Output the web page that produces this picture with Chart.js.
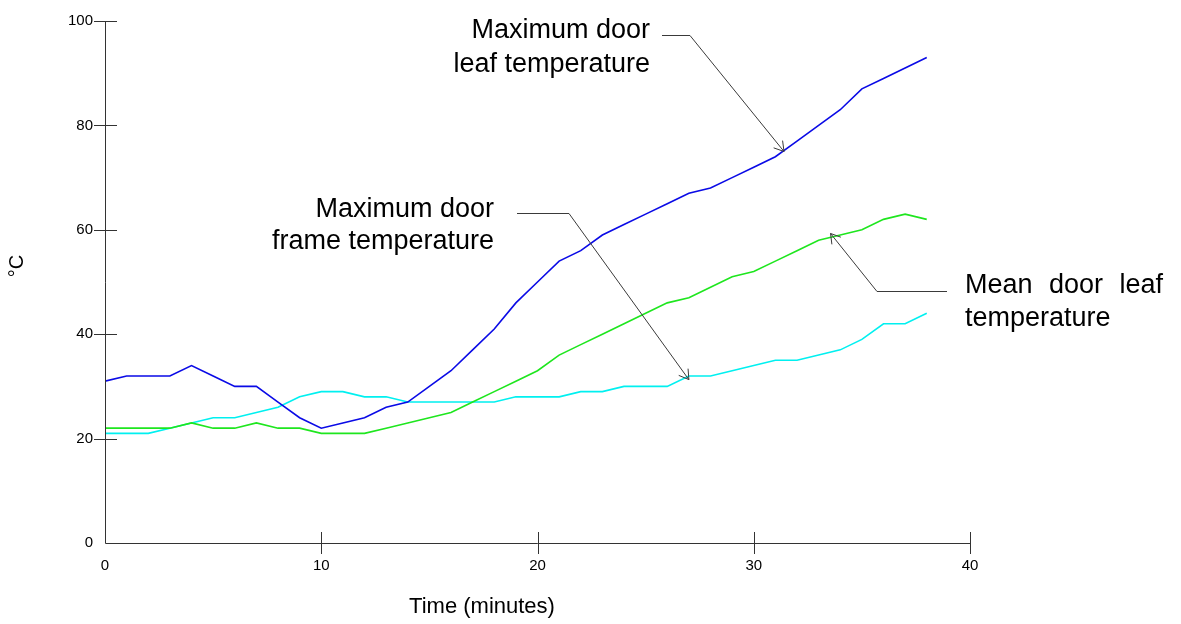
<!DOCTYPE html>
<html>
<head>
<meta charset="utf-8">
<script src="https://cdn.jsdelivr.net/npm/chart.js@4/dist/chart.umd.min.js"></script>
<style>
  html, body { margin: 0; padding: 0; background: #ffffff; }
  #wrap { width: 1181px; height: 624px; position: relative; }
</style>
</head>
<body>
<div id="wrap"><canvas id="chart" width="1181" height="624"></canvas></div>
<script>
// Elapsed test time in minutes
const minutes = [0,1,2,3,4,5,6,7,8,9,10,11,12,13,14,15,16,17,18,19,20,21,22,23,24,25,26,27,28,29,30,31,32,33,34,35,36,37,38];

// Temperatures in °C
const maxLeafTemp  = [31,32,32,32,34,32,30,30,27,24,22,23,24,26,27,30,33,37,41,46,50,54,56,59,61,63,65,67,68,70,72,74,77,80,83,87,89,91,93];
const meanLeafTemp = [22,22,22,22,23,22,22,23,22,22,21,21,21,22,23,24,25,27,29,31,33,36,38,40,42,44,46,47,49,51,52,54,56,58,59,60,62,63,62];
const maxFrameTemp = [21,21,21,22,23,24,24,25,26,28,29,29,28,28,27,27,27,27,27,28,28,28,29,29,30,30,30,32,32,33,34,35,35,36,37,39,42,42,44];

// Axis tick values
const xTicks = [0, 10, 20, 30, 40];
const yTicks = [0, 20, 40, 60, 80, 100];

// Callout labels with the data point each arrow points at
const callouts = [
  { lines: ['Maximum door', 'leaf temperature'], target: { x: 31.4, y: 75 } },
  { lines: ['Maximum door', 'frame temperature'], target: { x: 27.0, y: 31.3 } },
  { lines: ['Mean door leaf', 'temperature'], target: { x: 33.55, y: 59.3 } }
];

const FONT = '"Liberation Sans", Arial, Helvetica, sans-serif';

function toPoints(ys) {
  return minutes.map((m, i) => ({ x: m, y: ys[i] }));
}

// Placement of the callout text and leader lines (pixels)
const calloutLayout = [
  { align: 'right', tx: 650, baselines: [38, 72],   spacing: [0, 0], elbow: [[662, 35.5], [690, 35.5]] },
  { align: 'right', tx: 494, baselines: [217, 249], spacing: [0, 0], elbow: [[517, 213.5], [569, 213.5]] },
  { align: 'left',  tx: 965, baselines: [293, 326], spacing: [9, 0], elbow: [[947, 291.5], [877, 291.5]] }
];

function arrowHead(ctx, fromX, fromY, tipX, tipY) {
  const ang = Math.atan2(tipY - fromY, tipX - fromX);
  const len = 11, spread = 0.55;
  ctx.beginPath();
  ctx.moveTo(tipX - len * Math.cos(ang - spread), tipY - len * Math.sin(ang - spread));
  ctx.lineTo(tipX, tipY);
  ctx.lineTo(tipX - len * Math.cos(ang + spread), tipY - len * Math.sin(ang + spread));
  ctx.stroke();
}

const decorPlugin = {
  id: 'decor',
  afterDraw(chart) {
    const ctx = chart.ctx;
    const xs = chart.scales.x, ys = chart.scales.y;
    const x0 = xs.getPixelForValue(0), x1 = xs.getPixelForValue(40);
    const y0 = ys.getPixelForValue(0), y1 = ys.getPixelForValue(100);
    ctx.save();

    // Axis lines with ticks crossing them
    ctx.strokeStyle = '#333333';
    ctx.lineWidth = 1;
    ctx.beginPath();
    ctx.moveTo(Math.round(x0) + 0.5, y1);
    ctx.lineTo(Math.round(x0) + 0.5, Math.round(y0) + 0.5);
    ctx.lineTo(x1, Math.round(y0) + 0.5);
    yTicks.forEach(v => {
      if (v === 0) return;
      const py = Math.round(ys.getPixelForValue(v)) + 0.5;
      ctx.moveTo(x0 - 11, py);
      ctx.lineTo(x0 + 12, py);
    });
    xTicks.forEach(v => {
      if (v === 0) return;
      const px = Math.round(xs.getPixelForValue(v)) + 0.5;
      ctx.moveTo(px, y0 - 11);
      ctx.lineTo(px, y0 + 11);
    });
    ctx.stroke();

    // Axis titles
    ctx.fillStyle = '#000000';
    ctx.font = '22px ' + FONT;
    ctx.textAlign = 'center';
    ctx.textBaseline = 'middle';
    ctx.fillText('Time (minutes)', 482, 607);
    ctx.save();
    ctx.translate(17, 266);
    ctx.rotate(-Math.PI / 2);
    ctx.font = '20px ' + FONT;
    ctx.fillText('°C', 0, 0);
    ctx.restore();

    // Callouts
    ctx.font = '27px ' + FONT;
    ctx.textBaseline = 'alphabetic';
    callouts.forEach((c, i) => {
      const L = calloutLayout[i];
      ctx.textAlign = L.align;
      c.lines.forEach((t, j) => {
        if ('wordSpacing' in ctx) ctx.wordSpacing = L.spacing[j] + 'px';
        ctx.fillText(t, L.tx, L.baselines[j]);
      });
      if ('wordSpacing' in ctx) ctx.wordSpacing = '0px';
      const tipX = xs.getPixelForValue(c.target.x);
      const tipY = ys.getPixelForValue(c.target.y);
      const [a, b] = L.elbow;
      ctx.strokeStyle = '#3a3a3a';
      ctx.lineWidth = 1;
      ctx.beginPath();
      ctx.moveTo(a[0], a[1]);
      ctx.lineTo(b[0], b[1]);
      ctx.lineTo(tipX, tipY);
      ctx.stroke();
      arrowHead(ctx, b[0], b[1], tipX, tipY);
    });
    ctx.restore();
  }
};

const lineStyle = { borderWidth: 1.6, pointRadius: 0, tension: 0, fill: false };

new Chart(document.getElementById('chart'), {
  type: 'line',
  data: {
    datasets: [
      Object.assign({ label: 'Maximum door leaf temperature', data: toPoints(maxLeafTemp), borderColor: '#0a0ae6' }, lineStyle),
      Object.assign({ label: 'Mean door leaf temperature', data: toPoints(meanLeafTemp), borderColor: '#1ee61e' }, lineStyle),
      Object.assign({ label: 'Maximum door frame temperature', data: toPoints(maxFrameTemp), borderColor: '#00f0f0' }, lineStyle)
    ]
  },
  options: {
    responsive: false,
    animation: false,
    events: [],
    layout: { padding: { top: 19, right: 211, bottom: 0, left: 0 } },
    plugins: { legend: { display: false }, tooltip: { enabled: false } },
    scales: {
      x: {
        type: 'linear',
        min: 0, max: 40,
        afterFit: s => { s.height = 81; },
        afterBuildTicks: s => { s.ticks = xTicks.map(v => ({ value: v })); },
        grid: { display: false, drawTicks: false },
        border: { display: false },
        ticks: { color: '#000000', font: { family: FONT, size: 15 }, padding: 14, maxRotation: 0 }
      },
      y: {
        type: 'linear',
        min: 0, max: 100,
        afterFit: s => { s.width = 105; },
        afterBuildTicks: s => { s.ticks = yTicks.map(v => ({ value: v })); },
        grid: { display: false, drawTicks: false },
        border: { display: false },
        ticks: { color: '#000000', font: { family: FONT, size: 15 }, padding: 12 }
      }
    }
  },
  plugins: [decorPlugin]
});
</script>
</body>
</html>
